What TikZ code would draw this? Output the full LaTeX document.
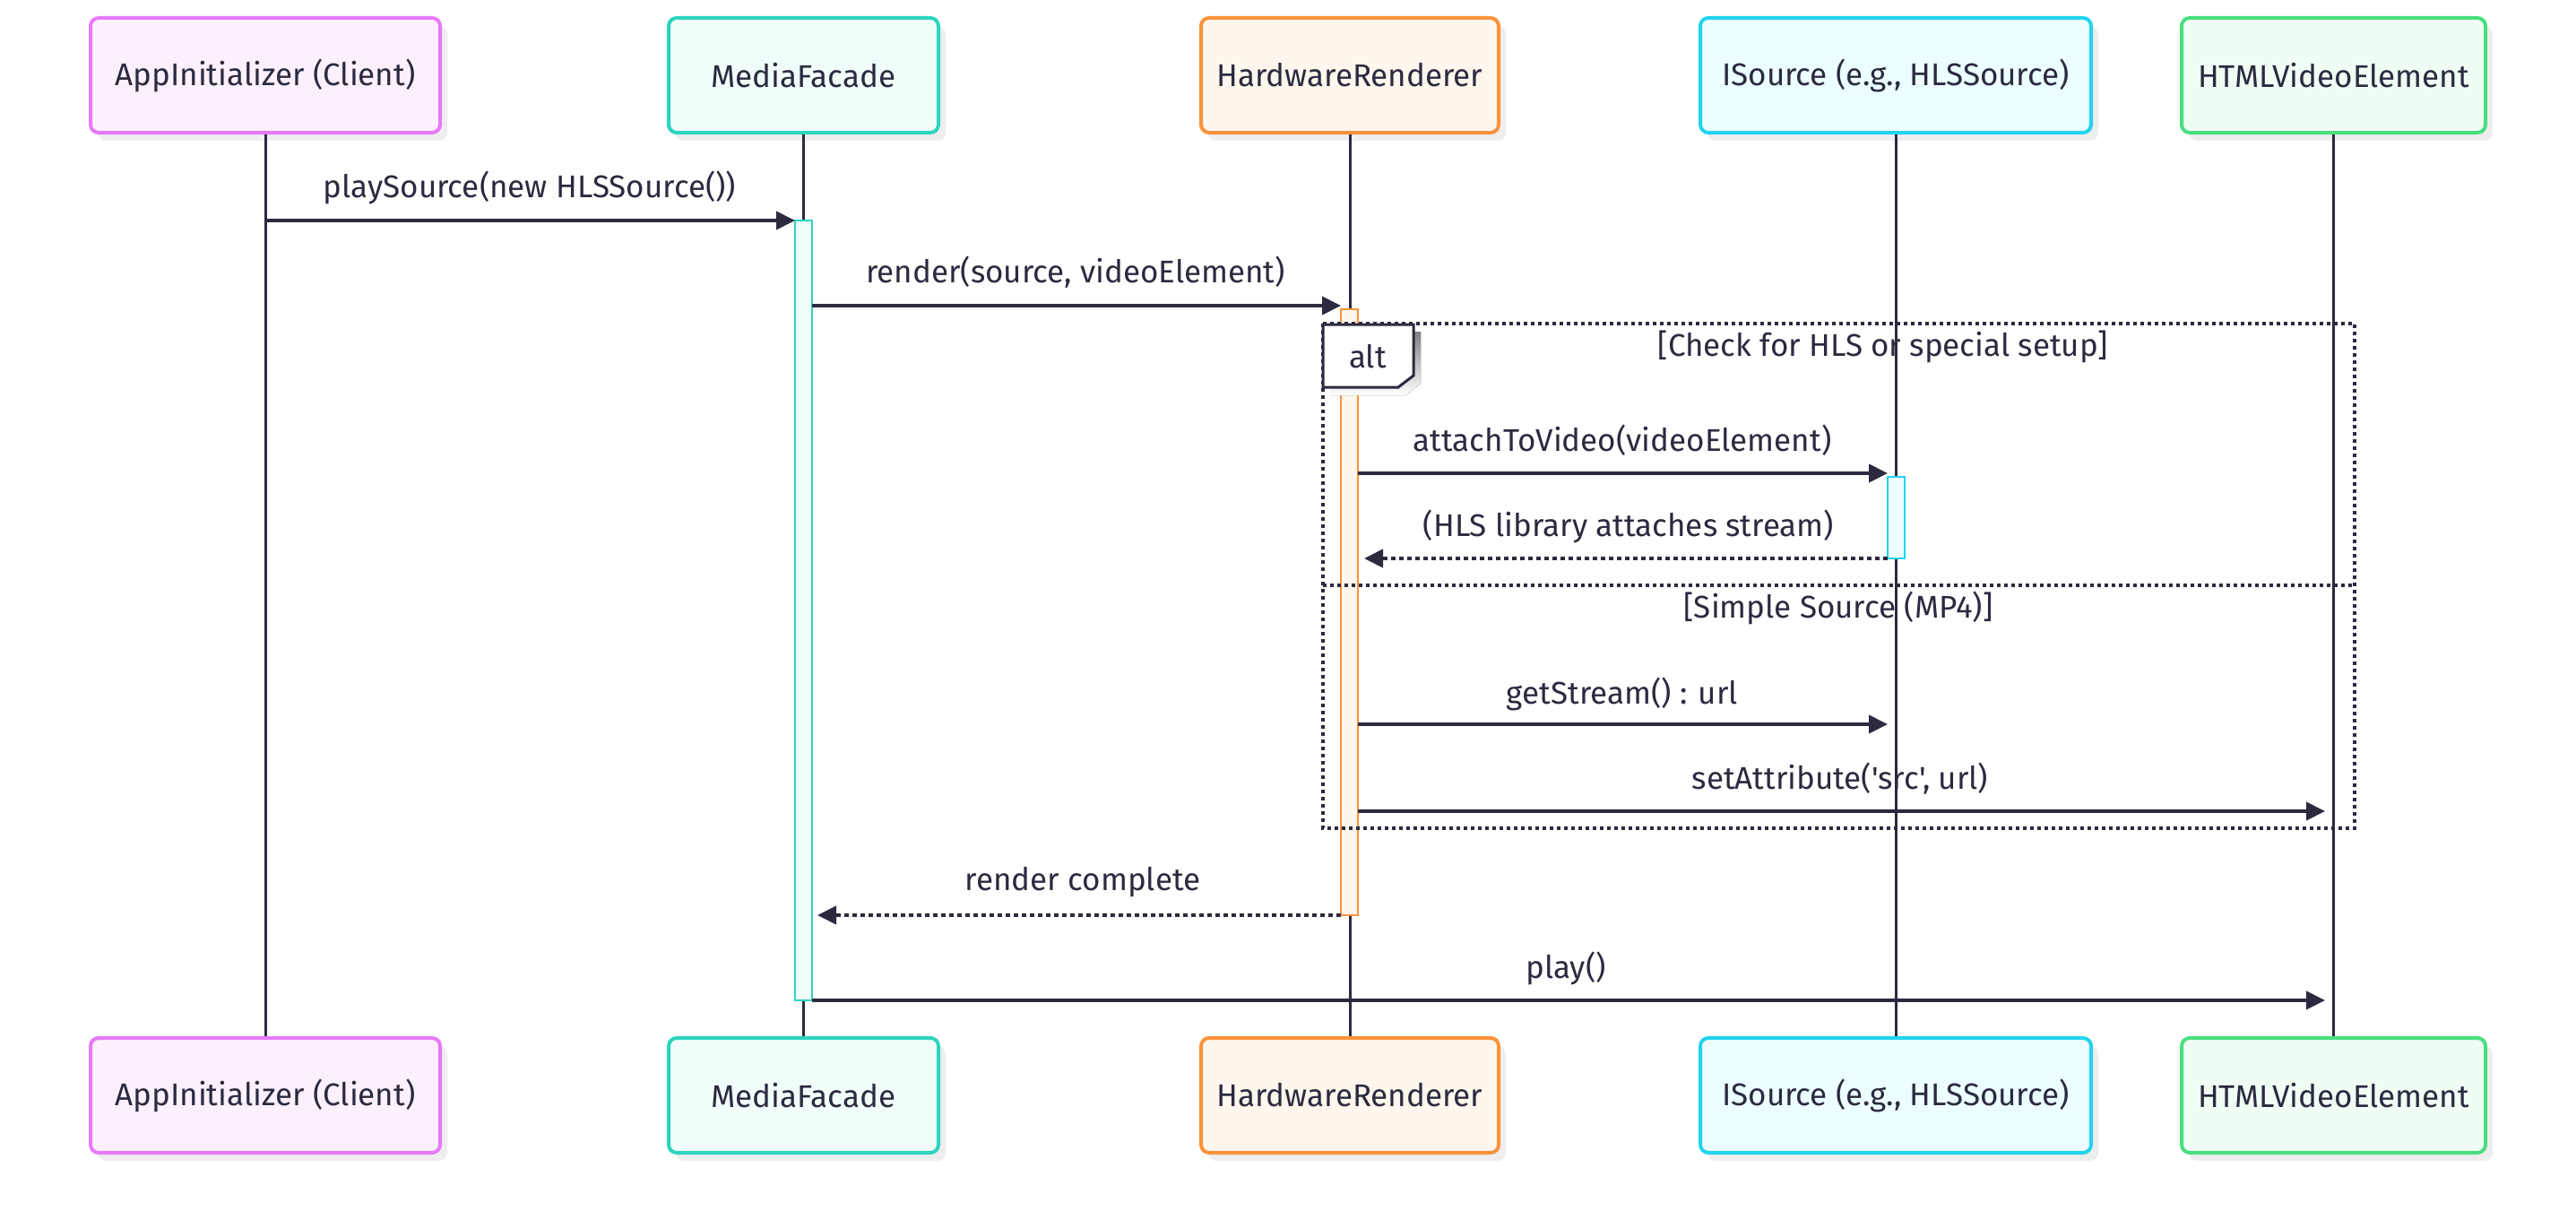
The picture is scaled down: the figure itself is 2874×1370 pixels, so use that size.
\documentclass[tikz,border=0pt]{standalone}
\usepackage{fontspec}
\setmainfont{Fira Sans}[Ligatures=TeXOff]
\usetikzlibrary{arrows.meta,shadows}

\definecolor{ink}{HTML}{2B2A3F}
\definecolor{shade}{HTML}{EEEEEE}
\definecolor{pinkline}{HTML}{E879F9}
\definecolor{pinkfill}{HTML}{FDF0FD}
\definecolor{tealline}{HTML}{2DD4BF}
\definecolor{tealfill}{HTML}{F0FDFA}
\definecolor{orangeline}{HTML}{FB923C}
\definecolor{orangefill}{HTML}{FFF6ED}
\definecolor{cyanline}{HTML}{22D3EE}
\definecolor{cyanfill}{HTML}{ECFEFF}
\definecolor{greenline}{HTML}{4ADE80}
\definecolor{greenfill}{HTML}{F0FDF4}

\tikzset{
  actor/.style={draw, line width=4pt, rounded corners=9pt, minimum height=128pt,
    inner sep=0pt, text=ink,
    general shadow={fill=shade, shadow xshift=8pt, shadow yshift=-9pt}},
  lifeline/.style={draw=ink, line width=3pt},
  activation/.style={draw, line width=2pt, minimum width=19pt, inner sep=0pt},
  msg/.style={draw=ink, line width=4pt, -{Triangle[length=21pt,width=20pt]}},
  reply/.style={msg, dash pattern=on 5pt off 4pt},
  frameline/.style={draw=ink, line width=4pt, dash pattern=on 4pt off 4pt},
  msglabel/.style={text=ink, inner sep=0pt},
}

\begin{document}
\begin{tikzpicture}[x=1pt, y=-1pt, font=\fontsize{35}{40}\selectfont]
\useasboundingbox (0,0) rectangle (2874,1370);

% participants, top row
\node[actor, draw=pinkline,   fill=pinkfill,   minimum width=390pt] (app) at (296,84)    {AppInitializer (Client)};
\node[actor, draw=tealline,   fill=tealfill,   minimum width=301pt] (mf)  at (896.5,84)  {MediaFacade};
\node[actor, draw=orangeline, fill=orangefill, minimum width=332pt] (hr)  at (1506,84)   {HardwareRenderer};
\node[actor, draw=cyanline,   fill=cyanfill,   minimum width=436pt] (src) at (2115,84)   {ISource (e.g., HLSSource)};
\node[actor, draw=greenline,  fill=greenfill,  minimum width=339pt] (vid) at (2603.5,84) {HTMLVideoElement};

% participants, bottom row
\node[actor, draw=pinkline,   fill=pinkfill,   minimum width=390pt] (appB) at (296,1222)    {AppInitializer (Client)};
\node[actor, draw=tealline,   fill=tealfill,   minimum width=301pt] (mfB)  at (896.5,1222)  {MediaFacade};
\node[actor, draw=orangeline, fill=orangefill, minimum width=332pt] (hrB)  at (1506,1222)   {HardwareRenderer};
\node[actor, draw=cyanline,   fill=cyanfill,   minimum width=436pt] (srcB) at (2115,1222)   {ISource (e.g., HLSSource)};
\node[actor, draw=greenline,  fill=greenfill,  minimum width=339pt] (vidB) at (2603.5,1222) {HTMLVideoElement};

% lifelines
\draw[lifeline] (app) -- (appB);
\draw[lifeline] (mf) -- (mfB);
\draw[lifeline] (hr) -- (hrB);
\draw[lifeline] (src) -- (srcB);
\draw[lifeline] (vid) -- (vidB);

% activation bars
\node[activation, draw=tealline,   fill=tealfill,   minimum height=870pt] (mfA)  at (896.5,681)  {};
\node[activation, draw=orangeline, fill=orangefill, minimum height=676pt] (hrA)  at (1505.5,683) {};
\node[activation, draw=cyanline,   fill=cyanfill,   minimum height=91pt]  (srcA) at (2115.5,577.5) {};

% alt frame
\draw[frameline] (1476,361) rectangle (2627,924);
\draw[frameline] (1476,653) -- (2627,653);
\fill[shade] (1484,370) -- (1585,370) -- (1585,428) -- (1568,441) -- (1484,441) -- cycle;
\draw[ink, line width=3pt, fill=white] (1476,362) -- (1577,362) -- (1577,419) -- (1560,432) -- (1476,432) -- cycle;
\node[msglabel] (altlbl) at (1526,398) {alt};
\node[msglabel] (cond1) at (2101,387) {[Check for HLS or special setup]};
\node[msglabel] (cond2) at (2051,678) {[Simple Source (MP4)]};

% message end points
\coordinate (m1a) at (296,246);    \coordinate (m1b) at (887,246);
\coordinate (m2a) at (906,341);    \coordinate (m2b) at (1496,341);
\coordinate (m3a) at (1515,528);   \coordinate (m3b) at (2106,528);
\coordinate (m4a) at (2106,623);   \coordinate (m4b) at (1522,623);
\coordinate (m5a) at (1515,808);   \coordinate (m5b) at (2106,808);
\coordinate (m6a) at (1515,905);   \coordinate (m6b) at (2594,905);
\coordinate (m7a) at (1496,1021);  \coordinate (m7b) at (912,1021);
\coordinate (m8a) at (906,1116);   \coordinate (m8b) at (2594,1116);

% messages
\draw[msg]   (m1a) -- (m1b);
\draw[msg]   (m2a) -- (m2b);
\draw[msg]   (m3a) -- (m3b);
\draw[reply] (m4a) -- (m4b);
\draw[msg]   (m5a) -- (m5b);
\draw[msg]   (m6a) -- (m6b);
\draw[reply] (m7a) -- (m7b);
\draw[msg]   (m8a) -- (m8b);

% message labels
\node[msglabel] (l1) at (591,209)  {playSource(new HLSSource())};
\node[msglabel] (l2) at (1200,304) {render(source, videoElement)};
\node[msglabel] (l3) at (1810,491) {attachToVideo(videoElement)};
\node[msglabel] (l4) at (1817,587) {(HLS library attaches stream)};
\node[msglabel] (l5) at (1810,774) {getStream() : url};
\node[msglabel] (l6) at (2053,869) {setAttribute('src', url)};
\node[msglabel] (l7) at (1208,984) {render complete};
\node[msglabel] (l8) at (1747,1080) {play()};
\end{tikzpicture}
\end{document}
